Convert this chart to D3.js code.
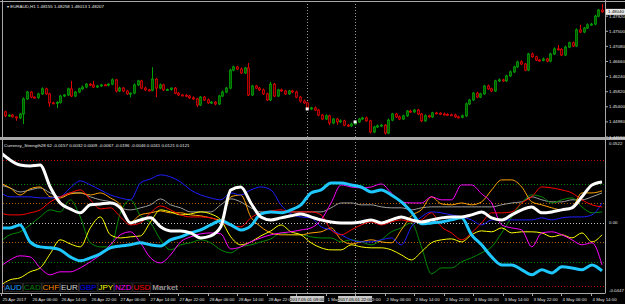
<!DOCTYPE html>
<html>
<head>
<meta charset="utf-8">
<script src="https://cdn.jsdelivr.net/npm/d3@7"></script>
<style>
  body { margin: 0; background: #000; }
  svg { display: block; }
  text { font-family: "Liberation Sans", Arial, sans-serif; }
</style>
</head>
<body>
<div id="chart"></div>
<script>
// ---- price data (EURAUD H1), one close per bar, open = previous close
var firstOpen = 1.4526;
var closes = [
  1.4515,1.4517,1.4512,1.4509,1.4520,1.4562,1.4581,1.4567,1.4566,1.4576,
  1.4590,1.4576,1.4551,1.4550,1.4552,1.4570,1.4573,1.4590,1.4570,1.4581,
  1.4590,1.4595,1.4603,1.4601,1.4595,1.4598,1.4601,1.4600,1.4603,1.4615,
  1.4584,1.4592,1.4584,1.4576,1.4578,1.4601,1.4612,1.4592,1.4587,1.4586,
  1.4617,1.4592,1.4601,1.4587,1.4588,1.4592,1.4578,1.4573,1.4572,1.4570,
  1.4565,1.4562,1.4545,1.4567,1.4559,1.4551,1.4553,1.4548,1.4570,1.4581,
  1.4592,1.4642,1.4651,1.4645,1.4634,1.4648,1.4573,1.4598,1.4592,1.4587,
  1.4576,1.4559,1.4603,1.4570,1.4587,1.4584,1.4576,1.4584,1.4581,1.4567,
  1.4556,1.4551,1.4534,1.4537,1.4531,1.4517,1.4506,1.4515,1.4495,1.4506,
  1.4498,1.4501,1.4489,1.4487,1.4492,1.4498,1.4506,1.4509,1.4501,1.4470,
  1.4484,1.4487,1.4489,1.4467,1.4503,1.4520,1.4512,1.4506,1.4515,1.4528,
  1.4526,1.4531,1.4520,1.4501,1.4515,1.4512,1.4523,1.4522,1.4520,1.4519,
  1.4518,1.4517,1.4512,1.4511,1.4515,1.4548,1.4559,1.4578,1.4567,1.4576,
  1.4598,1.4590,1.4584,1.4612,1.4615,1.4612,1.4626,1.4637,1.4651,1.4665,
  1.4659,1.4642,1.4687,1.4679,1.4670,1.4669,1.4673,1.4667,1.4687,1.4701,
  1.4700,1.4684,1.4706,1.4718,1.4709,1.4754,1.4748,1.4759,1.4768,1.4770,
  1.4792,1.4809,1.4804
];
// wick length beyond the body, in pips
var wickUp = [
  3,2,3,2,3,4,3,3,2,3, 4,3,3,3,4,3,2,3,22,3, 3,4,3,3,11,3,2,3,3,4,
  3,4,3,3,2,4,3,3,4,3, 33,3,4,3,3,2,3,3,2,3, 3,4,3,3,3,4,3,3,3,4,
  3,4,3,3,4,3,14,3,3,3, 4,3,6,3,3,4,3,3,3,4, 3,4,3,3,4,3,3,4,3,3,
  3,4,3,3,4,3,3,3,4,3, 3,4,3,3,4,3,3,4,3,3, 4,3,3,3,4,3,3,3,3,4,
  3,3,4,3,3,4,3,3,4,3, 3,4,3,3,4,3,3,4,3,3, 4,3,3,4,3,3,4,3,3,4,
  11,3,4,3,3,4,14,3,4,3, 4,3,17
];
var wickDn = [
  3,3,2,8,3,28,3,3,3,4, 3,3,11,3,14,3,3,3,3,3, 3,3,3,3,3,3,3,2,3,3,
  4,3,3,3,10,3,3,3,3,3, 3,25,3,3,3,3,3,3,3,3, 3,3,6,3,3,3,3,4,3,3,
  3,3,3,3,3,3,3,3,3,3, 3,3,3,3,3,3,3,3,3,3, 4,3,3,3,3,3,3,3,6,3,
  8,3,3,3,3,3,3,3,3,4, 3,3,3,4,3,3,3,3,3,3, 3,3,3,3,3,3,3,3,3,3,
  3,3,3,3,3,3,3,3,3,3, 3,3,3,3,3,3,3,3,3,3, 3,3,3,3,3,3,3,3,3,3,
  3,3,3,3,3,3,3,3,3,3, 3,3,3
];
var priceTicks = [1.4792, 1.4750, 1.4708, 1.4666, 1.4624, 1.4582, 1.4540, 1.4498, 1.4456];
var markerBars = [82, 95];
var markerLabels = ["2017.05.01 09:00", "2017.05.01 22:00"];

// ---- time axis
var timeLabels = [
  "25 Apr 2017", "26 Apr 06:00", "26 Apr 14:00", "26 Apr 22:00", "27 Apr 06:00",
  "27 Apr 14:00", "27 Apr 22:00", "28 Apr 06:00", "28 Apr 14:00", "28 Apr 22:00",
  "1 May 06:00", "1 May 14:00", "1 May 22:00", "2 May 06:00", "2 May 14:00",
  "2 May 22:00", "3 May 06:00", "3 May 14:00", "3 May 22:00", "4 May 06:00", "4 May 14:00"
];

// ---- currency strength, sampled every ~2.7 bars
var AUD = [-0.0032,-0.0032,-0.0013,-0.0121,-0.0153,-0.0159,-0.0172,-0.0217,-0.0242,-0.0223,
  -0.0197,-0.0159,-0.0147,-0.0140,-0.0127,-0.0140,-0.0147,-0.0108,-0.0089,-0.0064,
  -0.0045,-0.0013,0.0013,-0.0013,-0.0045,-0.0019,0.0057,0.0070,0.0064,0.0083,
  0.0115,0.0191,0.0210,0.0255,0.0255,0.0242,0.0229,0.0197,0.0210,0.0178,
  0.0134,0.0070,-0.0006,0,0.0006,0.0019,0.0032,-0.0076,-0.0140,-0.0217,
  -0.0268,-0.0268,-0.0299,-0.0331,-0.0299,-0.0319,-0.0280,-0.0287,-0.0299,-0.0268,-0.0306];
var CAD = [-0.0121,-0.0076,-0.0057,-0.0013,0.0038,0.0083,0.0070,0.0147,0.0038,-0.0127,
  -0.0153,-0.0153,0.0064,0.0147,0.0045,0,-0.0108,-0.0172,-0.0140,-0.0127,
  -0.0108,-0.0127,-0.0172,-0.0191,-0.0153,-0.0140,-0.0121,-0.0102,-0.0064,-0.0076,
  -0.0076,-0.0089,-0.0096,-0.0096,-0.0121,-0.0108,-0.0121,-0.0140,-0.0108,-0.0057,
  -0.0032,0,-0.0153,-0.0325,-0.0287,-0.0287,-0.0248,-0.0223,-0.0191,-0.0153,
  -0.0064,0.0038,0.0127,0.0178,0.0166,0.0127,0.0147,0.0159,0.0102,0.0064,0.0070];
var CHF = [0.0255,0.0223,0.0178,0.0217,0.0229,0.0166,0.0159,0.0185,0.0191,0.0178,
  0.0191,0.0159,0.0115,0.0006,0.0051,0.0064,0.0076,0.0064,0.0064,0.0051,
  0.0045,0.0032,0.0019,0.0166,0.0178,0.0038,-0.0025,-0.0064,-0.0076,-0.0076,
  -0.0076,-0.0064,-0.0057,-0.0032,-0.0108,-0.0134,-0.0121,-0.0108,-0.0121,-0.0127,
  -0.0045,0.0045,0.0083,0.0166,0.0121,0.0115,0.0127,0.0115,0.0134,0.0210,
  0.0274,0.0274,0.0229,0.0134,0.0115,0.0096,0.0083,0.0096,0.0191,0.0191,0.0204];
var EUR = [0.0452,0.0401,0.0369,0.0363,0.0369,0.0229,0.0127,0.0089,0.0064,0.0115,
  0.0121,0.0127,0.0096,0,0.0019,0.0032,-0.0025,-0.0051,-0.0051,-0.0064,
  -0.0096,-0.0083,-0.0025,0.0210,0.0229,0.0127,0.0038,0.0019,0.0032,0.0045,
  0.0057,0.0038,0.0019,0.0006,0,0,0.0006,0.0019,0,0.0019,
  0.0038,0.0019,0.0006,0.0019,0.0032,0.0038,0.0038,0.0051,0.0070,0.0032,
  0.0019,0.0051,0.0083,0.0102,0.0064,0.0070,0.0083,0.0096,0.0166,0.0242,0.0261];
var GBP = [0.0197,0.0166,0.0166,0.0166,0.0159,0.0159,0.0166,0.0223,0.0268,0.0242,
  0.0210,0.0178,0.0159,0.0147,0.0255,0.0280,0.0306,0.0293,0.0261,0.0210,
  0.0178,0.0159,0.0147,0.0191,0.0178,0.0210,0.0229,0.0210,0.0115,0.0057,
  0.0038,0.0032,-0.0025,-0.0045,-0.0076,-0.0108,-0.0121,-0.0121,-0.0108,-0.0096,
  -0.0140,-0.0025,0.0038,0.0070,0.0064,0.0051,0.0038,0.0019,-0.0013,0.0019,
  0.0019,0.0019,0.0019,0.0019,0.0032,0.0019,0.0032,0.0038,0.0038,0.0051,0.0127];
var JPY = [-0.0401,-0.0363,-0.0350,-0.0312,-0.0287,-0.0197,-0.0108,-0.0134,-0.0153,-0.0032,
  0.0038,-0.0076,-0.0096,-0.0089,-0.0083,0.0006,0.0083,0.0070,0.0051,0.0057,
  0.0070,0.0057,0.0019,-0.0089,-0.0140,-0.0121,-0.0083,-0.0051,-0.0013,-0.0057,
  -0.0076,-0.0127,-0.0159,-0.0172,-0.0172,-0.0140,-0.0153,-0.0159,-0.0159,-0.0172,
  -0.0204,-0.0236,-0.0185,-0.0127,-0.0108,-0.0102,-0.0121,-0.0076,-0.0051,-0.0057,
  -0.0032,-0.0064,-0.0057,-0.0057,-0.0064,-0.0089,-0.0076,-0.0096,-0.0064,-0.0121,-0.0076];
var NZD = [-0.0280,-0.0236,-0.0210,-0.0217,-0.0287,-0.0331,-0.0312,-0.0312,-0.0287,-0.0248,
  -0.0204,-0.0140,-0.0076,-0.0057,-0.0127,-0.0223,-0.0255,-0.0204,-0.0121,-0.0089,
  -0.0070,-0.0064,-0.0070,-0.0166,-0.0153,-0.0121,-0.0096,-0.0076,-0.0064,-0.0057,
  -0.0045,-0.0032,0.0019,0.0127,0.0242,0.0229,0.0223,0.0229,0.0248,0.0191,
  0.0134,0.0127,0.0127,0.0166,0.0147,0.0147,0.0242,0.0242,0.0185,0.0127,
  -0.0013,-0.0032,-0.0045,-0.0153,-0.0064,-0.0057,-0.0076,-0.0108,-0.0140,-0.0127,-0.0268];
var USD = [0.0064,0.0051,0.0051,0.0064,0.0083,0.0134,0.0166,0.0191,0.0210,0.0147,
  0.0089,0.0096,0.0038,-0.0013,0,0.0064,0.0108,0.0083,0.0051,0.0038,
  0.0038,0.0032,0.0006,-0.0019,-0.0025,0.0032,0.0064,0.0076,0.0083,0.0070,
  0.0070,0.0070,0.0051,-0.0045,-0.0076,-0.0045,-0.0013,0.0006,-0.0013,0.0006,
  0.0019,0.0006,0.0019,0.0064,-0.0025,-0.0064,-0.0108,-0.0064,0,0.0064,
  0.0064,0.0070,0.0127,0.0166,0.0229,0.0223,0.0210,0.0191,0.0147,0.0115,0.0102];
var Market = [0.0242,0.0223,0.0197,0.0210,0.0223,0.0191,0.0166,0.0191,0.0191,0.0166,
  0.0147,0.0134,0.0096,0.0083,0.0096,0.0115,0.0153,0.0115,0.0096,0.0070,
  0.0070,0.0070,0.0115,0.0153,0.0134,0.0096,0.0070,0.0070,0.0070,0.0070,
  0.0070,0.0070,0.0070,0.0096,0.0127,0.0127,0.0115,0.0115,0.0102,0.0096,
  0.0096,0.0083,0.0096,0.0102,0.0102,0.0102,0.0102,0.0102,0.0102,0.0102,
  0.0115,0.0127,0.0134,0.0166,0.0147,0.0134,0.0134,0.0147,0.0147,0.0166,0.0191];
var levels = [0.04, 0.025, 0.0125, 0, -0.0125, -0.025, -0.04];
var indMax = 0.0522, indMin = -0.0447;
var headerValues = "62 -0.0157 0.0032 0.0009 -0.0067 -0.0196 -0.0046 0.0241 0.0121 0.0121";

var legendNames = ["AUD", "CAD", "CHF", "EUR", "GBP", "JPY", "NZD", "USD", "Market"];

// ---------------------------------------------------------------
var width = 625, height = 304;
var left = 3, right = 605;
var priceTop = 4, priceBottom = 137;
var indTop = 141, indBottom = 293;

var colors = {
  AUD: "#1ec8ff", CAD: "#008c00", CHF: "#ffa500", EUR: "#ffffff", GBP: "#1e1eff",
  JPY: "#ffff00", NZD: "#ff00ff", USD: "#ff0000", Market: "#a0a0a0"
};
var legendColors = {
  AUD: "#1ea0ff", CAD: "#008000", CHF: "#ff8c00", EUR: "#d8d8d8", GBP: "#0000ff",
  JPY: "#ffff00", NZD: "#ff00ff", USD: "#ff0000", Market: "#909090"
};
var levelColors = ["#c00000", "#008000", "#b06000", "#c0c0c0", "#b06000", "#008000", "#c00000"];

var svg = d3.select('#chart')
  .append('svg')
  .attr('width', width)
  .attr('height', height)
  .style('background', '#000');

var defs = svg.append('defs');
defs.append('clipPath').attr('id', 'clip-price')
  .append('rect').attr('x', left).attr('y', priceTop).attr('width', right - left).attr('height', priceBottom - priceTop);
defs.append('clipPath').attr('id', 'clip-ind')
  .append('rect').attr('x', left).attr('y', indTop).attr('width', right - left).attr('height', indBottom - indTop);

var xBar = d3.scaleLinear().domain([0, closes.length - 1]).range([5, 602]);
var yPrice = d3.scaleLinear().domain([1.4456, 1.4837]).range([137, 0]);
var xInd = d3.scaleLinear().domain([0, AUD.length - 1]).range([0, 602]);
var yInd = d3.scaleLinear().domain([indMin, indMax]).range([indBottom, indTop]);

// ---- frames
var frame = svg.append('g').attr('stroke', '#a8a8a8').attr('fill', 'none');
frame.append('line').attr('x1', 0).attr('x2', width).attr('y1', 1.5).attr('y2', 1.5);
frame.append('line').attr('x1', 2.5).attr('x2', 2.5).attr('y1', 0).attr('y2', indBottom);
frame.append('line').attr('x1', right + 0.5).attr('x2', right + 0.5).attr('y1', 0).attr('y2', indBottom);
frame.append('line').attr('x1', 0).attr('x2', right + 0.5).attr('y1', indBottom + 0.5).attr('y2', indBottom + 0.5);
svg.append('rect').attr('x', 0).attr('y', priceBottom).attr('width', width).attr('height', 3).attr('fill', '#a8a8a8');

// ---- vertical markers
markerBars.forEach(function(b) {
  svg.append('line')
    .attr('x1', Math.round(xBar(b)) + 0.5).attr('x2', Math.round(xBar(b)) + 0.5)
    .attr('y1', priceTop).attr('y2', indBottom)
    .attr('stroke', '#9a9a9a').attr('stroke-dasharray', '1,2');
});

// ---- candles
var candles = closes.map(function(c, i) {
  var o = i === 0 ? firstOpen : closes[i - 1];
  return { i: i, o: o, c: c, h: Math.max(o, c) + wickUp[i] * 0.0001, l: Math.min(o, c) - wickDn[i] * 0.0001 };
});

var priceG = svg.append('g').attr('clip-path', 'url(#clip-price)');
var bar = priceG.selectAll('g.candle').data(candles).enter().append('g').attr('class', 'candle');
bar.append('line')
  .attr('x1', function(d) { return Math.round(xBar(d.i)) + 0.5; })
  .attr('x2', function(d) { return Math.round(xBar(d.i)) + 0.5; })
  .attr('y1', function(d) { return yPrice(d.h); })
  .attr('y2', function(d) { return yPrice(d.l); })
  .attr('stroke', function(d) { return d.c >= d.o ? '#00a000' : '#e00000'; });
bar.append('rect')
  .attr('x', function(d) { return Math.round(xBar(d.i)) - 0.5; })
  .attr('y', function(d) { return yPrice(Math.max(d.o, d.c)); })
  .attr('width', 2)
  .attr('height', function(d) { return Math.max(1, yPrice(Math.min(d.o, d.c)) - yPrice(Math.max(d.o, d.c))); })
  .attr('fill', function(d) { return d.c >= d.o ? '#005800' : '#400000'; })
  .attr('stroke', function(d) { return d.c >= d.o ? '#00a000' : '#e00000'; })
  .attr('stroke-width', 0.8);

markerBars.forEach(function(b) {
  priceG.append('rect')
    .attr('x', xBar(b) - 1.5).attr('y', yPrice(closes[b]) - 1.5)
    .attr('width', 3).attr('height', 3).attr('fill', '#ffffff');
});

// ---- price axis
var axisText = svg.append('g').attr('font-size', 4.4).attr('fill', '#e0e0e0');
priceTicks.forEach(function(p) {
  var y = yPrice(p);
  svg.append('line').attr('x1', right).attr('x2', right + 3).attr('y1', y).attr('y2', y).attr('stroke', '#a8a8a8');
  axisText.append('text').attr('x', right + 4).attr('y', y + 1.6).text(p.toFixed(5));
});
var last = closes[closes.length - 1];
svg.append('rect').attr('x', right + 1).attr('y', yPrice(last) - 3).attr('width', 19).attr('height', 6).attr('fill', '#e8e8e8');
svg.append('text').attr('x', right + 3).attr('y', yPrice(last) + 1.6)
  .attr('font-size', 4.4).attr('fill', '#000').text(last.toFixed(5));

svg.append('text').attr('x', 7).attr('y', 8)
  .attr('font-size', 4.4).attr('fill', '#e8e8e8')
  .text('\u25BE EURAUD,H1  1.48155 1.48258 1.48013 1.48207');

// ---- indicator panel
var indG = svg.append('g').attr('clip-path', 'url(#clip-ind)');
levels.forEach(function(v, i) {
  indG.append('line')
    .attr('x1', left).attr('x2', right)
    .attr('y1', Math.round(yInd(v)) + 0.5).attr('y2', Math.round(yInd(v)) + 0.5)
    .attr('stroke', levelColors[i]).attr('stroke-dasharray', '1,2');
});

var line = d3.line()
  .x(function(d, i) { return xInd(i); })
  .y(function(d) { return yInd(d); })
  .curve(d3.curveMonotoneX);

var series = [
  { name: "Market", data: Market, w: 1 },
  { name: "CAD", data: CAD, w: 1 },
  { name: "CHF", data: CHF, w: 1 },
  { name: "GBP", data: GBP, w: 1 },
  { name: "JPY", data: JPY, w: 1 },
  { name: "NZD", data: NZD, w: 1 },
  { name: "USD", data: USD, w: 1 },
  { name: "AUD", data: AUD, w: 3 },
  { name: "EUR", data: EUR, w: 3 }
];
indG.selectAll('path.strength').data(series).enter().append('path')
  .attr('class', 'strength')
  .attr('d', function(d) { return line(d.data); })
  .attr('fill', 'none')
  .attr('stroke', function(d) { return colors[d.name]; })
  .attr('stroke-width', function(d) { return d.w; })
  .attr('stroke-linejoin', 'round');

svg.append('text').attr('x', 4).attr('y', 147)
  .attr('font-size', 4.4).attr('fill', '#e8e8e8')
  .text('Currency_Strength28 ' + headerValues);

var indAxis = [indMax, 0, indMin];
indAxis.forEach(function(v) {
  var y = v === indMax ? indTop + 2 : (v === indMin ? indBottom - 3 : yInd(v));
  svg.append('text').attr('x', right + 4).attr('y', y + 1.6)
    .attr('font-size', 4.4).attr('fill', '#e0e0e0')
    .text(v === 0 ? '0.00' : v.toFixed(4));
});

// ---- legend
var legendG = svg.append('g');
var lx = 5;
legendNames.forEach(function(n) {
  var item = legendG.append('g');
  var box = item.append('rect');
  var t = item.append('text').attr('x', lx).attr('y', 290)
    .attr('font-size', 8)
    .attr('font-weight', n === 'Market' ? 'bold' : 'normal')
    .attr('fill', legendColors[n]).text(n);
  var w = t.node().getComputedTextLength();
  if (n !== 'Market') {
    box.attr('x', lx - 0.5).attr('y', 283).attr('width', w + 1).attr('height', 8.5)
      .attr('fill', '#000').attr('stroke', '#404040').attr('stroke-width', 0.6);
  } else {
    box.remove();
  }
  lx += w + 1.9;
});

// ---- time axis
var timeG = svg.append('g');
timeLabels.forEach(function(t, j) {
  var x = Math.round(xBar(8 * j - 1)) + 0.5;
  timeG.append('line').attr('x1', x).attr('x2', x).attr('y1', indBottom).attr('y2', indBottom + 3).attr('stroke', '#a8a8a8');
  timeG.append('text').attr('x', x + 1).attr('y', 301).attr('font-size', 4.4).attr('fill', '#e0e0e0').text(t);
});
markerBars.forEach(function(b, i) {
  var x = xBar(b);
  timeG.append('rect').attr('x', x - 17).attr('y', 296).attr('width', 34).attr('height', 6).attr('fill', '#c8c8c8');
  timeG.append('text').attr('x', x).attr('y', 300.6).attr('text-anchor', 'middle')
    .attr('font-size', 4.4).attr('fill', '#000').text(markerLabels[i]);
});
</script>
</body>
</html>
